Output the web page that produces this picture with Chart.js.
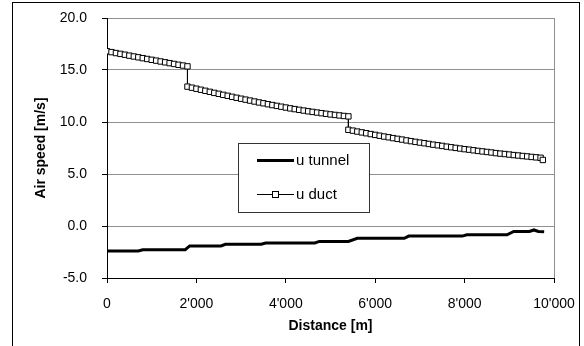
<!DOCTYPE html>
<html>
<head>
<meta charset="utf-8">
<script src="https://cdn.jsdelivr.net/npm/chart.js@4.4.0/dist/chart.umd.min.js"></script>
<style>
  html, body { margin: 0; padding: 0; background: #fff; }
  #wrap { position: relative; width: 584px; height: 346px; }
</style>
</head>
<body>
<div id="wrap"><canvas id="airChart" width="584" height="346"></canvas></div>
<script>
// Series names as in the legend
const seriesNames = ['u tunnel', 'u duct'];

// Axis ticks
const xTickValues = [0, 2000, 4000, 6000, 8000, 10000];
const yTickValues = [-5, 0, 5, 10, 15, 20];

// u duct: distance [m] / speed [m/s]
const ductDist = [
    0, 100, 200, 300, 400, 500, 600, 700, 800, 900, 1000, 1100, 1200, 1300, 1400, 1500, 1600, 1700, 1800,
    1800, 1900, 2000, 2100, 2200, 2300, 2400, 2500, 2600, 2700, 2800, 2900, 3000, 3100, 3200, 3300, 3400, 3500,
    3600, 3700, 3800, 3900, 4000, 4100, 4200, 4300, 4400, 4500, 4600, 4700, 4800, 4900, 5000, 5100, 5200, 5300, 5400,
    5400, 5500, 5600, 5700, 5800, 5900, 6000, 6100, 6200, 6300, 6400, 6500, 6600, 6700, 6800, 6900, 7000, 7100,
    7200, 7300, 7400, 7500, 7600, 7700, 7800, 7900, 8000, 8100, 8200, 8300, 8400, 8500, 8600, 8700, 8800, 8900,
    9000, 9100, 9200, 9300, 9400, 9500, 9600, 9700, 9750
];
const ductSpeed = [
    16.80, 16.72, 16.63, 16.55, 16.47, 16.38, 16.30, 16.22, 16.14, 16.06, 15.98, 15.90, 15.82, 15.74, 15.66, 15.58, 15.50, 15.43, 15.35,
    13.40, 13.30, 13.20, 13.10, 13.00, 12.90, 12.80, 12.71, 12.61, 12.52, 12.42, 12.33, 12.24, 12.15, 12.06, 11.97, 11.88, 11.80,
    11.71, 11.63, 11.55, 11.47, 11.39, 11.31, 11.24, 11.17, 11.10, 11.03, 10.97, 10.91, 10.85, 10.79, 10.73, 10.68, 10.63, 10.58, 10.54,
    9.25, 9.17, 9.08, 9.00, 8.92, 8.84, 8.76, 8.68, 8.60, 8.53, 8.45, 8.38, 8.31, 8.23, 8.16, 8.09, 8.02, 7.96,
    7.89, 7.82, 7.76, 7.70, 7.63, 7.57, 7.51, 7.45, 7.39, 7.34, 7.28, 7.22, 7.17, 7.12, 7.07, 7.01, 6.96, 6.92,
    6.87, 6.82, 6.78, 6.73, 6.69, 6.64, 6.60, 6.56, 6.35
];

// u tunnel: stepwise profile
const tunnelDist = [0, 700, 800, 1750, 1850, 2550, 2650, 3450, 3550, 4650, 4750, 5400, 5600, 6650, 6750, 7950, 8050, 8950, 9100, 9450, 9550, 9650, 9780];
const tunnelSpeed = [-2.40, -2.40, -2.28, -2.28, -1.92, -1.92, -1.76, -1.76, -1.63, -1.63, -1.48, -1.48, -1.18, -1.18, -0.97, -0.97, -0.84, -0.84, -0.52, -0.52, -0.38, -0.52, -0.55];

const FONT = 'Liberation Sans, Arial, sans-serif';

function toPoints(xs, ys) {
    return xs.map(function (x, i) { return { x: x, y: ys[i] }; });
}

function fmtThousands(v) {
    return String(v).replace(/\B(?=(\d{3})+(?!\d))/g, "'");
}

// Frame round the whole picture, gray plot edge on the right, and the boxed legend
const framePlugin = {
    id: 'frame',
    beforeDatasetsDraw(chart) {
        const { ctx, chartArea } = chart;
        ctx.save();
        ctx.strokeStyle = '#909090';
        ctx.lineWidth = 1;
        ctx.beginPath();
        ctx.moveTo(Math.round(chartArea.right) + 0.5, chartArea.top);
        ctx.lineTo(Math.round(chartArea.right) + 0.5, chartArea.bottom);
        ctx.stroke();
        ctx.restore();
    },
    afterDraw(chart) {
        const ctx = chart.ctx;
        ctx.save();
        ctx.strokeStyle = '#000';
        ctx.lineWidth = 1;
        ctx.strokeRect(12.5, 2.5, 567, 360);

        // legend box
        ctx.fillStyle = '#fff';
        ctx.fillRect(238.5, 143.5, 131, 69);
        ctx.strokeStyle = '#333';
        ctx.strokeRect(238.5, 143.5, 131, 69);

        const rows = [160, 194];
        ctx.font = '15px ' + FONT;
        ctx.textBaseline = 'middle';
        ctx.textAlign = 'left';
        chart.data.datasets.forEach(function (ds, i) {
            const y = rows[i];
            ctx.strokeStyle = ds.borderColor;
            ctx.lineWidth = ds.borderWidth;
            ctx.beginPath();
            ctx.moveTo(257, y + 0.5);
            ctx.lineTo(294, y + 0.5);
            ctx.stroke();
            if (ds.pointRadius > 0) {
                ctx.lineWidth = 1;
                ctx.fillStyle = ds.pointBackgroundColor;
                ctx.fillRect(272, y - 2.5, 6, 6);
                ctx.strokeStyle = ds.pointBorderColor;
                ctx.strokeRect(272.5, y - 2.5, 6, 6);
            }
            ctx.fillStyle = '#000';
            ctx.fillText(ds.label, 296, y + 1);
        });
        ctx.restore();
    }
};

const ctx = document.getElementById('airChart').getContext('2d');
new Chart(ctx, {
    type: 'line',
    data: {
        datasets: [{
            label: seriesNames[0],
            data: toPoints(tunnelDist, tunnelSpeed),
            borderColor: '#000',
            borderWidth: 3,
            pointRadius: 0,
            tension: 0
        }, {
            label: seriesNames[1],
            data: toPoints(ductDist, ductSpeed),
            borderColor: '#000',
            borderWidth: 1,
            pointStyle: 'rect',
            pointRadius: 3.8,
            pointBorderWidth: 1,
            pointBorderColor: '#000',
            pointBackgroundColor: '#fff',
            tension: 0
        }]
    },
    options: {
        responsive: false,
        animation: false,
        events: [],
        layout: { padding: { left: 0, top: 18, right: 30, bottom: 0 } },
        plugins: {
            legend: { display: false },
            tooltip: { enabled: false }
        },
        scales: {
            x: {
                type: 'linear',
                min: 0,
                max: 10000,
                afterBuildTicks: function (axis) {
                    axis.ticks = xTickValues.map(function (v) { return { value: v }; });
                },
                afterFit: function (axis) {
                    axis.height = 68;
                    axis.paddingLeft = 0;
                    axis.paddingRight = 0;
                },
                grid: { drawOnChartArea: false, tickLength: 5, tickColor: '#000' },
                border: { color: '#000', width: 1 },
                ticks: {
                    color: '#000',
                    font: { family: FONT, size: 14 },
                    padding: 13,
                    maxRotation: 0,
                    callback: function (v) { return fmtThousands(v); }
                },
                title: {
                    display: true,
                    text: 'Distance [m]',
                    color: '#000',
                    font: { family: FONT, size: 14, weight: 'bold' },
                    padding: { top: 0, bottom: 11 }
                }
            },
            y: {
                type: 'linear',
                min: -5,
                max: 20,
                afterBuildTicks: function (axis) {
                    axis.ticks = yTickValues.map(function (v) { return { value: v }; });
                },
                afterFit: function (axis) {
                    axis.width = 107;
                    axis.paddingTop = 0;
                    axis.paddingBottom = 0;
                },
                grid: { color: '#909090', tickLength: 5, tickColor: '#000' },
                border: { color: '#000', width: 1 },
                ticks: {
                    color: '#000',
                    font: { family: FONT, size: 14 },
                    padding: 15,
                    callback: function (v) { return v.toFixed(1); }
                },
                title: {
                    display: true,
                    text: 'Air speed [m/s]',
                    color: '#000',
                    font: { family: FONT, size: 14, weight: 'bold' },
                    padding: { top: 33, bottom: 0 }
                }
            }
        }
    },
    plugins: [framePlugin]
});
</script>
</body>
</html>
